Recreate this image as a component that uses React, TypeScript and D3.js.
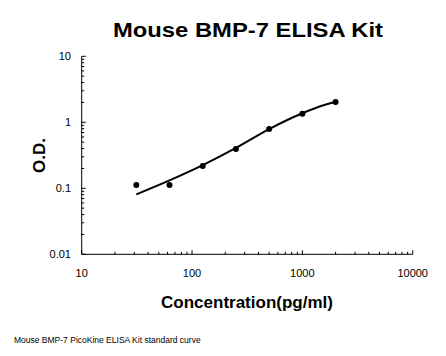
import React from "react";
import * as d3 from "d3";

const concentrations = [31.25, 62.5, 125, 250, 500, 1000, 2000];
const odValues = [0.112, 0.112, 0.218, 0.394, 0.79, 1.35, 2.03];
const fitConc = [31.25, 62.5, 125, 250, 500, 1000, 1500, 2000];
const fitOD = [0.081, 0.132, 0.225, 0.41, 0.79, 1.37, 1.78, 2.03];
const xTicks = [10, 100, 1000, 10000];
const yTicks = [0.01, 0.1, 1, 10];
const title = "Mouse BMP-7 ELISA Kit";
const xLabel = "Concentration(pg/ml)";
const yLabel = "O.D.";
const caption = "Mouse BMP-7 PicoKine ELISA Kit standard curve";

export default function App() {
  const W = 446, H = 356;
  const x = d3.scaleLog().domain([10, 10000]).range([81.7, 412.7]);
  const y = d3.scaleLog().domain([0.01, 10]).range([254.3, 56.3]);
  const font = "Arial, 'Liberation Sans', sans-serif";

  const xMinor: number[] = [];
  for (let d = 10; d < 10000; d *= 10) for (let k = 2; k <= 9; k++) xMinor.push(d * k);
  const yMinor: number[] = [];
  for (let d = 0.01; d < 9; d *= 10) for (let k = 2; k <= 9; k++) yMinor.push(+(d * k).toPrecision(3));

  const line = d3
    .line<number>()
    .x((_, i) => x(fitConc[i]))
    .y((d) => y(d))
    .curve(d3.curveMonotoneX);

  const x0 = x(10), y0 = y(0.01);

  return (
    <svg width={W} height={H} style={{ position: "absolute", left: 0, top: 0, background: "#fff" }}>
      <rect width={W} height={H} fill="#fff" />
      <text x={113} y={36.7} textLength={270} lengthAdjust="spacingAndGlyphs" fontFamily={font} fontWeight="bold" fontSize={21} fill="#000">
        {title}
      </text>
      {/* axes */}
      <line x1={x0} x2={x0} y1={y(10)} y2={y0} stroke="#000" strokeWidth={1} />
      <line x1={x0} x2={x(10000)} y1={y0} y2={y0} stroke="#000" strokeWidth={1} />
      {xTicks.map((t) => (
        <g key={"xt" + t}>
          <line x1={x(t)} x2={x(t)} y1={y0} y2={y0 - 4} stroke="#000" />
          <text x={x(t)} y={276.5} textAnchor="middle" fontFamily={font} fontSize={11} fill="#000">
            {t}
          </text>
        </g>
      ))}
      {xMinor.map((t) => (
        <line key={"xm" + t} x1={x(t)} x2={x(t)} y1={y0} y2={y0 - 2.5} stroke="#000" />
      ))}
      {yTicks.map((t) => (
        <g key={"yt" + t}>
          <line x1={x0} x2={x0 + 4} y1={y(t)} y2={y(t)} stroke="#000" />
          <text x={71} y={y(t) + 4} textAnchor="end" fontFamily={font} fontSize={11} fill="#000">
            {t}
          </text>
        </g>
      ))}
      {yMinor.map((t) => (
        <line key={"ym" + t} x1={x0} x2={x0 + 2.5} y1={y(t)} y2={y(t)} stroke="#000" />
      ))}
      {/* fit curve */}
      <path d={line(fitOD) || ""} fill="none" stroke="#000" strokeWidth={2} />
      {concentrations.map((c, i) => (
        <circle key={"p" + c} cx={x(c)} cy={y(odValues[i])} r={3} fill="#000" />
      ))}
      <text x={247} y={307.5} textAnchor="middle" fontFamily={font} fontWeight="bold" fontSize={17} fill="#000">
        {xLabel}
      </text>
      <text
        transform={`translate(44.5,155.5) rotate(-90)`}
        textAnchor="middle"
        fontFamily={font}
        fontWeight="bold"
        fontSize={17}
        fill="#000"
      >
        {yLabel}
      </text>
      <text x={14} y={343} fontFamily={font} fontSize={8.5} fill="#000">
        {caption}
      </text>
    </svg>
  );
}
